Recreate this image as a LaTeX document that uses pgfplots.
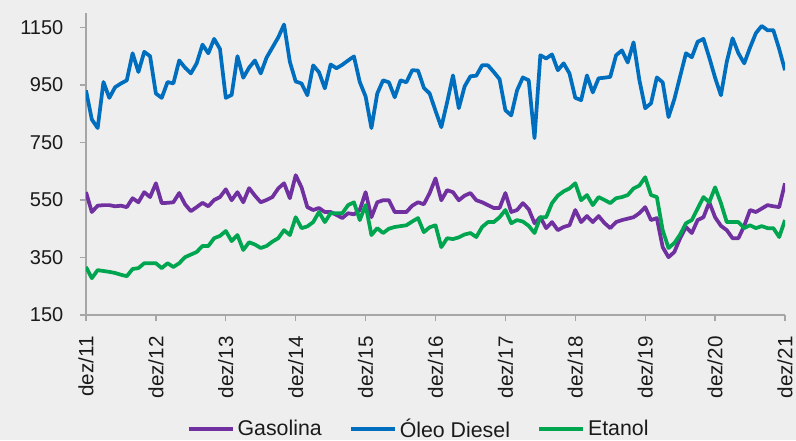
\documentclass[border=0pt]{standalone}
\usepackage{fontspec}
\setmainfont{Liberation Sans}
\usepackage{pgfplots}
\usepackage{pgfplotstable}
\pgfplotsset{compat=1.18}
\definecolor{bg}{HTML}{EEEEEE}
\definecolor{gas}{RGB}{112,48,160}
\definecolor{dsl}{RGB}{0,110,190}
\definecolor{eta}{RGB}{0,165,80}
\definecolor{axc}{HTML}{A6A6A6}
\definecolor{txt}{HTML}{1A1A1A}

\pgfplotstableread{
m gas dsl eta
0 577 931 317
1 508 830 278
2 530 800 306
3 532 960 303
4 532 905 300
5 528 942 296
6 530 955 290
7 525 966 285
8 556 1060 310
9 542 995 313
10 577 1065 330
11 560 1050 330
12 608 920 330
13 539 905 313
14 540 960 330
15 542 955 317
16 574 1035 330
17 535 1010 351
18 511 990 360
19 525 1025 369
20 540 1090 390
21 528 1060 390
22 550 1110 417
23 560 1075 425
24 587 905 442
25 549 915 407
26 577 1050 428
27 542 975 376
28 591 1010 403
29 565 1035 395
30 542 990 383
31 550 1045 390
32 560 1080 405
33 590 1115 417
34 608 1160 445
35 556 1030 428
36 636 962 490
37 594 955 452
38 525 914 458
39 515 1018 473
40 522 994 508
41 508 938 473
42 508 1021 504
43 498 1008 504
44 487 1020 504
45 504 1035 532
46 500 1049 542
47 515 960 480
48 577 910 532
49 490 800 428
50 542 920 452
51 549 966 435
52 549 959 450
53 508 907 456
54 508 966 459
55 508 959 462
56 530 1001 475
57 542 1000 487
58 535 940 438
59 574 920 455
60 625 860 462
61 549 803 386
62 584 890 417
63 577 983 414
64 549 869 420
65 565 945 430
66 574 980 435
67 549 982 421
68 542 1018 456
69 532 1018 473
70 522 995 473
71 522 970 490
72 574 862 515
73 508 844 469
74 515 931 480
75 539 976 475
76 518 966 460
77 469 765 435
78 490 1053 490
79 452 1042 490
80 473 1056 539
81 445 1001 565
82 456 1025 580
83 462 990 590
84 515 905 608
85 473 897 549
86 494 983 567
87 473 924 532
88 494 973 560
89 470 975 550
90 452 978 539
91 473 1053 556
92 480 1070 560
93 485 1028 567
94 490 1098 590
95 504 967 600
96 525 869 629
97 480 886 567
98 487 976 560
99 386 959 445
100 351 838 383
101 369 900 400
102 417 980 430
103 456 1060 469
104 435 1046 480
105 480 1100 520
106 490 1110 560
107 542 1045 542
108 490 975 594
109 460 914 539
110 445 1030 473
111 417 1112 473
112 417 1060 473
113 460 1025 452
114 515 1080 462
115 508 1130 452
116 520 1155 459
117 532 1140 452
118 528 1140 452
119 525 1075 421
120 608 1001 480
}\datatable

\begin{document}
\begin{tikzpicture}[x=1pt,y=1pt]
\fill[bg] (0,0) rectangle (597,330);
\useasboundingbox (0,0) rectangle (597,330);
\begin{axis}[
  at={(64.5pt,93.75pt)}, anchor=south west,
  scale only axis, width=524.25pt, height=226.5pt,
  xmin=0, xmax=120, ymin=150, ymax=1200,
  axis x line*=bottom, axis y line*=left,
  axis line style={-, draw=axc, line width=1pt},
  tick style={draw=axc, line width=1pt},
  tick align=outside, major tick length=4.5pt,
  xtick={0,12,...,120},
  xticklabels={dez/11,dez/12,dez/13,dez/14,dez/15,dez/16,dez/17,dez/18,dez/19,dez/20,dez/21},
  xticklabel style={rotate=90, anchor=east, xshift=-8pt, font=\fontsize{15.5}{18}\selectfont, text=txt},
  ytick={150,350,550,750,950,1150},
  yticklabel style={xshift=-9pt, font=\fontsize{15}{18}\selectfont, text=txt},
  /pgf/number format/assume math mode=true,
  /pgf/number format/1000 sep={},
  legend columns=3,
  legend style={at={(0.476,-0.377)}, anchor=center, draw=none, fill=none,
    font=\fontsize{16}{19}\selectfont, text=txt,
    /tikz/every even column/.append style={column sep=18pt}},
  legend image code/.code={\draw[#1, line width=3.5pt] (0pt,0pt) -- (33pt,0pt);},
  every axis plot/.append style={line width=2.8pt, line join=round, mark=none},
]
\addplot[color=gas] table[x=m, y=gas] {\datatable};
\addlegendentry{Gasolina}
\addplot[color=dsl] table[x=m, y=dsl] {\datatable};
\addlegendentry{Óleo Diesel}
\addplot[color=eta] table[x=m, y=eta] {\datatable};
\addlegendentry{Etanol}
\end{axis}
\end{tikzpicture}
\end{document}
